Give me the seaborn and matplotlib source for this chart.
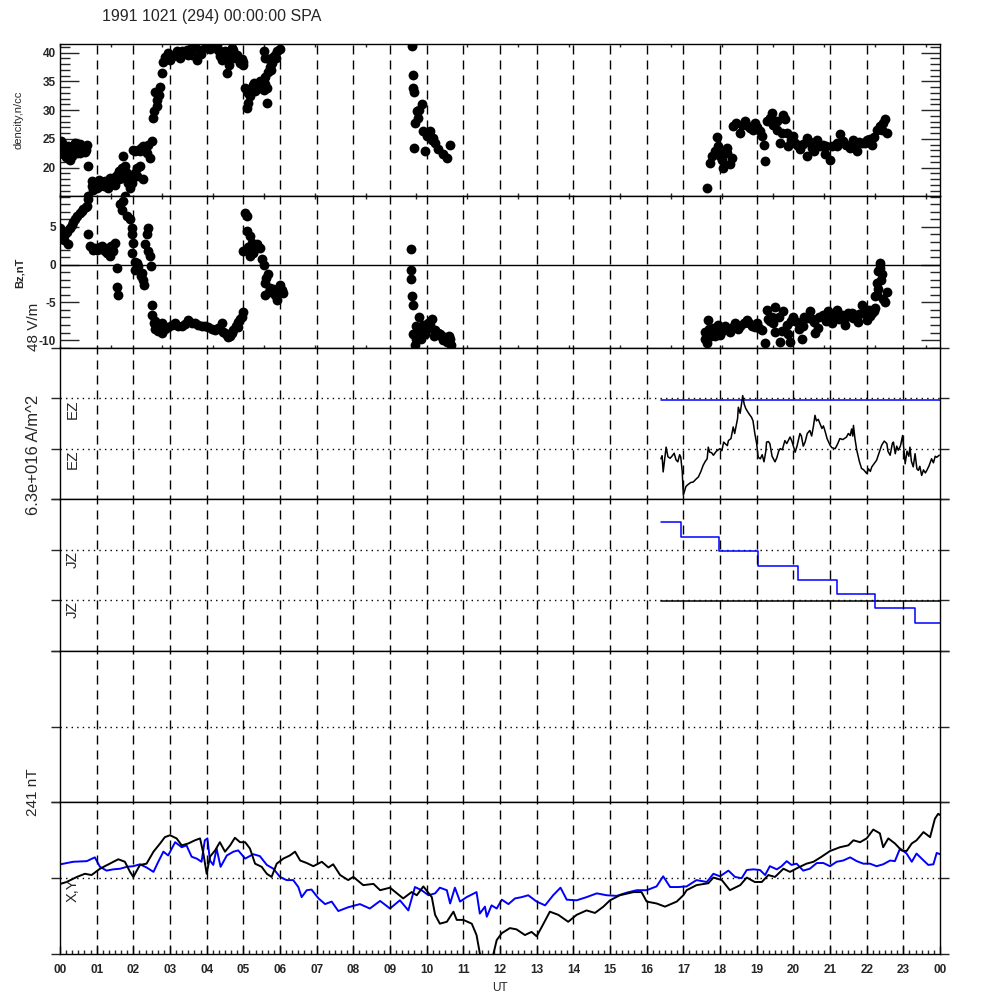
import numpy as np
import matplotlib
matplotlib.use("Agg")
import matplotlib.pyplot as plt
from matplotlib.ticker import MultipleLocator
import seaborn as sns

# ---- data (hours UT) ----
dens_hr = [0.02, 0.05, 0.09, 0.18, 0.23, 0.27, 0.32, 0.36, 0.41, 0.46, 0.5, 0.55, 0.6, 0.64, 0.68, 0.73, 0.77,
           0.86, 0.86, 0.77, 0.95, 1.0, 1.09, 1.15, 1.23, 1.32, 1.36, 1.41, 1.45, 1.5, 1.55, 1.6, 1.64, 1.68,
           1.73, 1.77, 1.82, 1.86, 1.91, 1.77, 1.96, 2.0, 2.05, 2.09, 2.18, 2.27, 2.05, 2.12, 2.18, 2.27, 2.36,
           2.45, 2.5, 2.4,
           2.53, 2.57, 2.64, 2.64, 2.59, 2.70, 2.73, 2.77, 2.82, 2.86, 3.0, 2.95, 3.08, 3.14, 3.27, 3.32, 3.4,
           3.46, 3.59, 3.68, 3.73, 3.82, 3.95, 4.27, 4.31, 4.36, 4.36, 4.41, 4.5, 4.55, 4.56, 4.6, 4.64, 4.68,
           4.73, 4.77, 4.82, 4.86, 4.91, 5.0, 5.0,
           5.05, 5.09, 5.14, 5.14, 5.23, 5.27, 5.32, 5.41, 5.45, 5.55, 5.64, 5.59, 5.64, 5.68, 5.72, 5.77, 5.55,
           5.59, 5.8, 5.86, 5.93, 6.0,
           9.59, 9.62, 9.64, 9.65, 9.73, 9.86, 9.77, 9.68, 9.65, 9.8, 9.91, 10.0, 10.09, 10.14, 9.95, 10.23,
           10.32, 10.45, 10.56, 10.64, 10.05, 10.18,
           17.64, 17.73, 17.77, 17.86, 17.93, 17.95, 18.05, 18.09, 18.18, 18.27, 18.32, 18.1, 18.45, 18.55,
           18.68, 18.82, 18.95, 19.09, 19.2, 19.23, 19.27, 19.41, 19.55, 19.55, 19.64, 19.73, 19.77, 19.82,
           19.86, 20.0, 20.05, 20.18, 20.36, 20.36, 20.55, 20.73, 20.86, 21.0, 21.05, 21.18, 21.27, 21.45,
           21.64, 21.73, 21.86, 22.0, 22.14, 22.27, 22.36, 22.5, 22.55, 20.45, 20.64, 20.9, 21.55, 22.1,
           0.12, 0.15, 0.3, 0.45, 0.55, 0.7, 0.9, 1.05, 1.2, 1.27, 1.5, 1.6, 1.7, 1.75, 1.86, 1.95, 2.1, 2.2,
           2.32, 2.0, 3.2, 3.5, 3.6, 3.85, 4.0, 4.1, 4.2, 4.45, 4.62, 4.7, 4.95, 5.18, 5.3, 5.36, 5.5, 5.6,
           5.75, 5.7, 5.9, 18.0, 18.2, 18.35, 18.6, 18.75, 18.9, 19.0, 19.15, 19.35, 19.45, 19.68, 19.95,
           20.1, 20.27, 20.5, 20.8, 21.2, 21.35, 21.6, 21.8, 21.95, 22.2, 22.42, 22.45]
dens_val = [24.6, 24.3, 22.3, 23.2, 23.7, 21.4, 22.0, 23.2, 24.3, 24.0, 23.0, 22.6, 23.8, 23.5, 22.8, 24.0, 20.3,
            17.7, 16.8, 15.1, 17.4, 16.5, 16.8, 17.6, 17.7, 16.5, 18.3, 17.2, 17.7, 18.4, 18.8, 18.0, 19.4, 18.3,
            22.0, 20.3, 19.1, 17.4, 16.5, 15.1, 18.0, 18.6, 19.1, 18.5, 20.3, 18.0, 22.9, 23.0, 22.9, 23.7, 22.6,
            21.7, 24.6, 24.0,
            28.7, 29.8, 30.7, 31.8, 33.1, 32.7, 34.1, 36.4, 38.4, 39.3, 38.7, 39.9, 39.4, 39.6, 39.0, 40.2, 40.0,
            40.5, 39.6, 41.0, 38.7, 40.5, 40.8, 41.3, 40.5, 40.2, 39.4, 38.7, 40.2, 39.6, 36.4, 38.9, 39.4, 40.8,
            40.5, 39.0, 39.6, 39.0, 38.2, 37.9, 38.3,
            33.8, 30.4, 31.2, 33.0, 33.8, 34.3, 33.3, 34.1, 35.0, 33.5, 33.8, 35.8, 31.2, 36.7, 37.5, 38.2, 40.2,
            39.0, 39.2, 39.6, 40.2, 40.6,
            41.2, 36.1, 33.8, 33.2, 29.8, 31.0, 28.7, 27.8, 23.5, 30.0, 26.3, 25.5, 26.3, 24.9, 22.9, 24.3,
            23.2, 22.3, 21.7, 24.0, 25.8, 25.2,
            16.5, 20.9, 22.0, 22.9, 25.4, 23.7, 21.4, 20.0, 23.5, 20.6, 21.7, 22.5, 27.8, 26.1,
            28.1, 26.9, 27.8, 26.3, 24.0, 21.1, 28.1, 29.5, 28.1, 26.6, 24.3, 29.2, 28.4, 26.1,
            23.7, 25.5, 24.3, 23.2, 25.2, 22.0, 22.9, 23.7, 22.3, 21.4, 23.7, 24.3, 25.8, 24.0,
            24.9, 22.9, 24.3, 24.9, 24.0, 26.6, 27.2, 28.4, 26.1, 24.5, 24.8, 23.8, 23.5, 25.0,
            23.5, 21.8, 23.0, 22.5, 24.2, 23.0, 16.2, 17.8, 16.9, 17.2, 17.0, 19.5, 20.0, 18.6, 18.8, 17.3,
            19.9, 23.4, 23.0, 23.0, 40.3, 39.5, 40.9, 39.8, 41.0, 40.6, 41.2, 40.0, 37.8, 39.8, 38.8, 32.5,
            34.8, 33.6, 34.5, 34.6, 37.0, 38.8, 39.0, 22.0, 22.6, 27.3, 27.5, 27.2, 26.5, 27.0, 25.5, 28.6,
            27.5, 26.0, 24.8, 24.0, 24.2, 23.5, 24.0, 23.8, 24.6, 24.0, 24.5, 24.3, 25.3, 26.5, 27.8]

bz_hr = [0.0, 0.05, 0.14, 0.23, 0.27, 0.36, 0.46, 0.55, 0.64, 0.73, 0.77, 0.77, 0.82, 0.95, 1.09, 1.23, 1.32,
         1.36, 1.45, 1.5, 1.55, 1.55, 1.59, 1.64, 1.73, 1.68, 1.82, 1.91, 1.96, 1.97, 2.0, 1.97, 2.05, 2.05,
         2.14, 2.23, 2.27, 2.3, 2.32, 2.36, 2.41, 2.41, 2.45, 2.48, 2.5, 2.5, 2.55, 2.59, 2.77, 2.77, 2.95,
         3.14, 3.32, 3.5, 3.68, 3.86, 4.04, 4.23, 4.41, 4.5, 4.59, 4.73, 4.86, 5.0, 5.05, 5.09, 5.0, 5.09,
         5.18, 5.23, 5.18, 5.27, 5.36, 5.45, 5.5, 5.55, 5.68, 5.59, 5.59, 5.73, 5.86, 5.91, 6.0, 6.09,
         1.0, 1.15, 1.28, 1.4, 2.68, 2.86, 3.05, 3.23, 3.41, 3.59, 3.77, 3.95, 4.14, 4.32, 4.45, 4.55, 4.64,
         4.8, 4.91,
         0.1, 0.2, 0.32, 0.42, 0.6, 0.7, 0.9, 1.05, 1.2, 1.3, 1.42, 2.1, 2.2, 2.6, 2.7, 4.7, 4.85, 4.95,
         5.12, 5.25, 5.4, 5.63, 5.7, 5.8, 5.95, 6.05,
         9.56, 9.56, 9.58, 9.6, 9.62, 9.8, 9.71, 9.64, 9.68, 9.86, 9.95, 10.04, 10.14, 10.23, 10.36, 10.5,
         10.64, 10.66, 9.75, 9.9, 10.3, 10.45, 9.7, 9.78, 9.85, 10.0, 10.1, 10.2, 10.4, 10.55, 10.6,
         17.64, 17.59, 17.59, 17.68, 17.82, 18.0, 18.14, 18.27, 18.41, 18.55, 18.73, 18.86, 19.0, 19.14,
         19.23, 19.27, 19.41, 19.5, 19.5, 19.64, 19.73, 19.82, 19.91, 20.0, 20.09, 20.23, 20.27, 20.36,
         20.45, 20.55, 20.68, 20.82, 20.95, 21.05, 21.18, 21.32, 21.41, 21.5, 21.64, 21.77, 21.86, 21.91,
         22.0, 22.14, 22.23, 22.23, 22.27, 22.32, 22.36, 22.36, 22.41, 22.55, 22.5, 22.27,
         17.75, 17.9, 18.5, 18.95, 19.35, 19.85, 20.6, 21.1, 21.7, 22.05,
         17.7, 17.85, 17.95, 18.05, 18.2, 18.35, 18.45, 18.65, 18.8, 19.05, 19.3, 19.45, 19.6, 19.7, 19.95,
         20.15, 20.3, 20.5, 20.7, 20.9, 21.0, 21.25, 21.45, 21.6, 21.8, 21.95, 22.1, 22.2, 22.3, 22.4, 22.45]
bz_val = [4.9, 3.6, 4.0, 2.7, 4.9, 5.6, 6.5, 6.9, 7.4, 7.8, 8.7, 4.1, 2.5, 2.2, 2.3, 1.8, 2.2,
          1.1, 1.8, 2.9, -0.4, -2.9, -4.0, 8.1, 8.5, 7.2, 6.5, 6.0, 4.9, 4.0, 2.9, 1.6, 0.4, -0.7,
          -0.2, -1.1, -2.0, -2.7, 2.7, 4.0, 4.9, 1.8, 1.1, -0.2, -5.4, -6.7, -7.8, -8.5, -9.0, -7.8, -8.3,
          -7.8, -8.1, -7.4, -7.8, -8.1, -8.3, -8.7, -7.8, -9.0, -9.6, -8.7, -7.6, -6.3, 6.9, 6.5, 1.8, 4.5,
          3.8, 2.9, 1.1, 1.6, 2.7, 2.2, 0.7, 0.0, -1.3, -2.5, -4.0, -3.1, -4.0, -4.7, -2.7, -3.8,
          1.9, 2.5, 1.5, 2.5, -8.8, -8.6, -8.0, -8.2, -7.9, -7.7, -8.0, -8.2, -8.5, -8.4, -8.9, -9.3, -9.4,
          -8.2, -7.2,
          3.2, 4.3, 5.2, 6.1, 7.1, 7.6, 2.0, 2.1, 2.0, 1.5, 2.2, 0.2, -1.5, -7.5, -8.2, -9.0, -8.3, -6.9,
          2.3, 1.7, 2.4, -1.8, -3.6, -3.2, -3.5, -3.3,
          2.1, -0.7, -1.9, -4.2, -5.4, -6.9, -8.1, -9.2, -10.6, -8.7, -9.2, -7.8, -7.2, -8.7, -9.2, -9.6,
          -9.8, -10.7, -9.5, -8.0, -9.0, -10.0, -9.8, -8.5, -9.8, -8.6, -8.0, -9.5, -9.4, -10.2, -9.5,
          -10.4, -8.9, -9.8, -7.3, -8.4, -9.3, -8.2, -8.9, -7.8, -8.2, -7.3, -8.2, -7.8, -8.7,
          -10.4, -6.0, -6.9, -5.6, -8.9, -10.2, -6.2, -8.0, -10.2, -6.9, -7.6, -9.8, -8.2, -7.1,
          -6.2, -7.6, -8.4, -6.7, -6.2, -7.8, -6.0, -6.7, -8.0, -6.4, -7.1, -7.6, -5.3, -6.4,
          -7.3, -6.4, -5.8, -4.2, -2.4, -0.9, 0.2, -0.4, -1.3, -3.6, -4.9, -4.0,
          -9.5, -8.8, -8.6, -8.3, -7.5, -9.2, -9.0, -7.0, -6.8, -6.0,
          -8.5, -9.5, -8.0, -8.8, -8.6, -8.3, -8.0, -7.8, -7.7, -8.4, -7.2, -7.8, -7.0, -8.8, -7.5,
          -8.5, -7.0, -7.2, -7.0, -7.5, -6.8, -7.2, -7.0, -6.4, -6.6, -6.2, -6.8, -6.2, -3.2, -2.0, -4.5]

ez_hr = [16.39, 16.42, 16.45, 16.5, 16.53, 16.58, 16.64, 16.7, 16.75, 16.8, 16.85, 16.9, 16.93, 16.97,
         17.0, 17.03, 17.07, 17.11, 17.2, 17.27, 17.35, 17.41, 17.48, 17.54, 17.6, 17.65, 17.68, 17.72,
         17.77, 17.82, 17.9, 18.0, 18.05, 18.1, 18.14, 18.2, 18.23, 18.3, 18.36, 18.4, 18.45, 18.48, 18.5,
         18.55, 18.6, 18.62, 18.66, 18.7, 18.73, 18.8, 18.86, 18.9, 18.95, 19.0, 19.04, 19.1, 19.15, 19.2,
         19.25, 19.27, 19.32, 19.36, 19.42, 19.5, 19.55, 19.6, 19.64, 19.7, 19.77, 19.82, 19.91, 19.96,
         20.0, 20.05, 20.1, 20.18, 20.22, 20.27, 20.32, 20.38, 20.45, 20.5, 20.55, 20.59, 20.63, 20.68,
         20.73, 20.78, 20.82, 20.86, 20.92, 21.0, 21.05, 21.14, 21.2, 21.27, 21.35, 21.45, 21.5, 21.55,
         21.59, 21.62, 21.64, 21.68, 21.73, 21.8, 21.86, 21.92, 22.0, 22.05, 22.1, 22.14, 22.2, 22.27,
         22.33, 22.41, 22.48, 22.55, 22.58, 22.64, 22.7, 22.73, 22.78, 22.82, 22.86, 22.92, 22.98, 23.02,
         23.05, 23.1, 23.15, 23.18, 23.22, 23.27, 23.32, 23.37, 23.41, 23.45, 23.5, 23.55, 23.6, 23.64,
         23.7, 23.77, 23.82, 23.87, 23.91, 23.98]
ez_val = [0.80, 0.86, 0.54, 0.85, 1.03, 0.84, 0.81, 0.86, 0.91, 0.78, 0.74, 0.88, 0.83, 0.55,
          0.08, 0.15, 0.25, 0.28, 0.33, 0.34, 0.40, 0.44, 0.55, 0.67, 0.75, 0.80, 1.03, 0.93,
          0.92, 0.87, 0.95, 1.00, 0.96, 1.13, 1.10, 1.06, 1.16, 1.20, 1.43, 1.30, 1.49, 1.60, 1.82,
          1.70, 1.95, 2.05, 1.88, 1.80, 1.76, 1.68, 1.62, 1.55, 1.30, 1.10, 0.83, 0.80, 0.88, 0.74,
          0.95, 1.13, 1.14, 1.10, 0.85, 0.74, 0.82, 0.95, 1.00, 0.98, 1.16, 1.10, 1.23, 1.15,
          1.05, 0.93, 1.05, 1.30, 1.25, 1.05, 1.13, 1.30, 1.36, 1.25, 1.45, 1.66, 1.55, 1.58,
          1.49, 1.40, 1.45, 1.36, 1.20, 1.07, 1.02, 1.00, 1.08, 1.20, 1.18, 1.23, 1.30, 1.26,
          1.39, 1.25, 1.46, 1.20, 0.97, 0.75, 0.61, 0.58, 0.51, 0.60, 0.55, 0.64, 0.70, 0.77,
          0.90, 1.07, 1.15, 1.10, 0.95, 0.87, 1.10, 1.13, 0.90, 1.05, 0.97, 1.05, 1.26, 0.95,
          0.70, 0.95, 0.85, 1.03, 0.75, 0.64, 0.90, 0.60, 0.57, 0.65, 0.47, 0.58, 0.52, 0.57,
          0.66, 0.80, 0.72, 0.85, 0.83, 0.87]
ez_ref_hr = [16.39, 24.0]
ez_ref_val = [1.97, 1.97]

jz_hr = [16.39, 16.93, 17.98, 19.04, 20.12, 21.18, 22.23, 23.32, 24.0]
jz_val = [2.54, 2.25, 1.97, 1.68, 1.41, 1.12, 0.84, 0.55, 0.55]
jz_ref_hr = [16.39, 24.0]
jz_ref_val = [0.99, 0.99]

x_hr = [0.01, 0.18, 0.46, 0.68, 0.86, 1.09, 1.36, 1.59, 1.77, 1.91, 2.0, 2.18, 2.36, 2.55, 2.73, 2.86, 3.0,
        3.18, 3.32, 3.5, 3.68, 3.82, 3.91, 4.0, 4.09, 4.23, 4.36, 4.5, 4.64, 4.77, 4.91, 5.05, 5.18, 5.32,
        5.5, 5.64, 5.77, 5.91, 6.09, 6.27, 6.41, 6.55, 6.73, 6.91, 7.14, 7.32, 7.45, 7.64, 7.86, 8.0, 8.27,
        8.55, 8.73, 9.0, 9.36, 9.59, 9.73, 9.91, 10.14, 10.23, 10.36, 10.55, 10.73, 10.82, 11.0, 11.23,
        11.36, 11.45, 11.59, 11.73, 11.82, 11.91, 12.05, 12.27, 12.45, 12.68, 12.86, 13.0, 13.14, 13.36,
        13.59, 13.86, 14.09, 14.36, 14.59, 14.82, 15.0, 15.27, 15.64, 15.86, 16.0, 16.27, 16.5, 16.82,
        17.0, 17.09, 17.36, 17.68, 17.82, 18.05, 18.27, 18.55, 18.73, 18.95, 19.14, 19.32, 19.5, 19.73,
        19.91, 20.14, 20.36, 20.55, 20.77, 21.0, 21.27, 21.5, 21.64, 21.82, 22.0, 22.18, 22.36, 22.45,
        22.59, 22.77, 22.95, 23.09, 23.23, 23.36, 23.55, 23.73, 23.86, 23.95, 24.0]
x_val = [-9, -6, 2, 7, 5, 15, 23, 30, 26, 10, 2, 21, 23, 42, 55, 65, 68,
         63, 52, 55, 60, 63, 39, 7, 34, 44, 57, 42, 52, 64, 57, 57, 47, 23,
         18, 7, 2, 23, 31, 36, 42, 28, 24, 19, 26, 17, 22, 5, -3, 2, -11,
         -9, -19, -15, -32, -22, -27, -13, -30, -58, -72, -69, -53, -66, -66, -72,
         -90, -119, -138, -138, -120, -98, -87, -79, -81, -90, -85, -92, -77, -53,
         -58, -69, -58, -51, -55, -45, -35, -27, -22, -22, -37, -40, -45, -37,
         -27, -19, -11, -8, 1, -3, -19, -11, 1, -6, -6, 5, 2, 15,
         10, 17, 23, 26, 34, 43, 49, 52, 60, 57, 63, 77, 71, 49,
         63, 55, 44, 43, 55, 60, 73, 65, 94, 102, 100]

y_hr = [0.01, 0.36, 0.73, 0.95, 1.09, 1.27, 1.45, 1.64, 1.82, 2.0, 2.18, 2.36, 2.55, 2.68, 2.82, 2.95, 3.14,
        3.32, 3.45, 3.59, 3.73, 3.86, 3.95, 4.02, 4.09, 4.18, 4.27, 4.38, 4.55, 4.73, 4.86, 5.05, 5.27, 5.45,
        5.64, 5.82, 6.0, 6.18, 6.36, 6.5, 6.59, 6.73, 6.86, 7.05, 7.23, 7.41, 7.59, 7.86, 8.18, 8.45, 8.73,
        9.0, 9.27, 9.5, 9.68, 9.86, 10.05, 10.23, 10.36, 10.55, 10.64, 10.77, 10.91, 11.09, 11.36, 11.45,
        11.59, 11.64, 11.77, 11.91, 12.05, 12.23, 12.41, 12.59, 12.77, 13.0, 13.23, 13.45, 13.65, 13.82,
        14.09, 14.36, 14.64, 14.91, 15.18, 15.45, 15.73, 16.0, 16.27, 16.45, 16.64, 16.86, 17.09, 17.36,
        17.64, 17.82, 18.0, 18.23, 18.41, 18.59, 18.73, 18.91, 19.09, 19.23, 19.36, 19.55, 19.68, 19.82,
        19.95, 20.09, 20.27, 20.45, 20.64, 20.82, 21.0, 21.18, 21.36, 21.55, 21.73, 21.91, 22.09, 22.27,
        22.45, 22.64, 22.77, 22.91, 23.09, 23.23, 23.36, 23.5, 23.68, 23.82, 23.91, 24.0]
y_val = [22, 26, 27, 33, 18, 12, 14, 15, 18, 19, 22, 17, 10, 26, 42, 36, 57,
         49, 52, 34, 31, 26, 60, 63, 28, 21, 47, 18, 36, 42, 44, 31, 38, 35,
         21, 15, 2, -3, -3, -14, -30, -19, -18, -32, -41, -37, -52, -46, -41, -48, -36,
         -48, -35, -51, -14, -19, -27, -24, -15, -19, -40, -15, -37, -30, -22, -56,
         -45, -61, -43, -48, -34, -41, -32, -30, -27, -37, -43, -27, -15, -34,
         -35, -30, -24, -27, -28, -23, -19, -19, -13, 3, -14, -14, -13, -3,
         -6, 7, 3, 12, 2, 0, 13, 14, 13, 5, 19, 14, 19, 27,
         21, 23, 12, 15, 24, 24, 19, 26, 28, 33, 27, 23, 23, 19,
         22, 28, 27, 47, 39, 26, 39, 31, 21, 22, 40, 38]

hour_labels = ["%02d" % (h % 24) for h in range(25)]

# ---- figure ----
sns.set_style("white")
plt.rcParams['font.family'] = ['Liberation Sans', 'DejaVu Sans']
plt.rcParams['axes.linewidth'] = 1.0
plt.rcParams['axes.unicode_minus'] = False

fig = plt.figure(figsize=(10, 10), dpi=100)
left, width, h = 0.06, 0.88, 0.1516
bottoms = [0.046 + h * i for i in range(6)][::-1]
axes = [fig.add_axes([left, b, width, h]) for b in bottoms]
for ax in axes:
    ax.set_xlim(0, 24)
    for sp in ax.spines.values():
        sp.set_color('black')
        sp.set_linewidth(1.0)

dotted = (0, (1, 3))
tick5000 = np.arange(0, 24.01, 5000 / 3600)
dot_size = 50

# density
ax = axes[0]
sns.scatterplot(x=dens_hr, y=dens_val, ax=ax, color='black', s=dot_size, linewidth=0, legend=False)
ax.set_ylim(15.09, 41.42)
ax.set_yticks([20, 25, 30, 35, 40])
ax.yaxis.set_minor_locator(MultipleLocator(1))

# Bz
ax = axes[1]
ax.axhline(0, color='black', lw=1.0)
sns.scatterplot(x=bz_hr, y=bz_val, ax=ax, color='black', s=dot_size, linewidth=0, legend=False)
ax.set_ylim(-11.0, 9.1)
ax.set_yticks([-10, -5, 0, 5])
ax.yaxis.set_minor_locator(MultipleLocator(1))

for ax in axes[:2]:
    ax.set_xticks(tick5000)
    ax.tick_params(axis='x', direction='in', length=2.5, width=1, top=True, bottom=True,
                   labelbottom=False)
    ax.tick_params(axis='y', which='major', direction='in', length=13.7, width=1,
                   left=True, right=True, labelsize=8.5, pad=3)
    ax.tick_params(axis='y', which='minor', direction='in', length=7, width=1, left=True, right=True)
    plt.setp(ax.get_yticklabels(), fontweight='bold')

# EZ
ax = axes[2]
for lev in [1, 2]:
    ax.axhline(lev, color='black', lw=1, ls=dotted)
sns.lineplot(x=ez_ref_hr, y=ez_ref_val, ax=ax, color='blue', lw=1.1, estimator=None, sort=False)
sns.lineplot(x=ez_hr, y=ez_val, ax=ax, color='black', lw=1.1, estimator=None, sort=False)
ax.set_ylim(0, 3)
for lev in [2, 1]:
    ax.text(0.0148, lev - 0.02, 'EZ', transform=ax.get_yaxis_transform(), rotation=90,
            ha='center', va='top', fontsize=11)

# JZ
ax = axes[3]
for lev in [1, 2]:
    ax.axhline(lev, color='black', lw=1, ls=dotted)
sns.lineplot(x=jz_ref_hr, y=jz_ref_val, ax=ax, color='black', lw=1.1, estimator=None, sort=False)
sns.lineplot(x=jz_hr, y=jz_val, ax=ax, color='blue', lw=1.1, estimator=None, sort=False,
             drawstyle='steps-post')
ax.set_ylim(0, 3)
for lev in [2, 1]:
    ax.text(0.0148, lev - 0.02, 'JZ', transform=ax.get_yaxis_transform(), rotation=90,
            ha='center', va='top', fontsize=11)

# empty
ax = axes[4]
ax.axhline(1, color='black', lw=1, ls=dotted)
ax.set_ylim(0, 2)

# X,Y
ax = axes[5]
ax.axhline(0, color='black', lw=1, ls=dotted)
sns.lineplot(x=y_hr, y=y_val, ax=ax, color='blue', lw=1.4, estimator=None, sort=False)
sns.lineplot(x=x_hr, y=x_val, ax=ax, color='black', lw=1.4, estimator=None, sort=False)
ax.set_ylim(-120, 120)
ax.text(0.0148, -0.06, 'X,Y', transform=ax.get_yaxis_transform(), rotation=90,
        ha='center', va='top', fontsize=10.5)

for ax, yt in zip(axes[2:], [[0, 1, 2, 3], [0, 1, 2, 3], [0, 1, 2], [-120, 0, 120]]):
    ax.set_yticks(yt)
    ax.tick_params(axis='y', direction='out', length=6.5, width=1, left=True, right=True,
                   labelleft=False)
for ax in axes[2:5]:
    ax.set_xticks([])

ax = axes[5]
ax.set_xticks(range(25))
ax.set_xticklabels(hour_labels)
ax.xaxis.set_minor_locator(MultipleLocator(1 / 6))
ax.tick_params(axis='x', which='major', direction='in', length=6, width=1, bottom=True,
               labelsize=8.5, pad=7)
ax.tick_params(axis='x', which='minor', direction='in', length=3, width=1, bottom=True)
plt.setp(ax.get_xticklabels(), fontweight='bold')

for ax in axes:
    ax.set_xlabel('')
    ax.set_ylabel('')

# dashed hour lines across all panels
ov = fig.add_axes([left, 0.046, width, 6 * h])
ov.set_xlim(0, 24)
ov.set_ylim(0, 1)
ov.axis('off')
for hr in range(1, 24):
    ov.axvline(hr, color='black', lw=1.0, ls=(0, (6.5, 4.3)))

# labels
fig.text(0.1017, 0.984, '1991 1021 (294) 00:00:00 SPA', ha='left', va='center', fontsize=11.5)
fig.text(0.019, 0.880, 'dencity,n/cc', rotation=90, ha='center', va='center', fontsize=8)
fig.text(0.020, 0.727, 'Bz,nT', rotation=90, ha='center', va='center', fontsize=8, fontweight='bold')
fig.text(0.034, 0.673, '48 V/m', rotation=90, ha='center', va='center', fontsize=11)
fig.text(0.033, 0.545, '6.3e+016 A/m^2', rotation=90, ha='center', va='center', fontsize=12)
fig.text(0.033, 0.208, '241 nT', rotation=90, ha='center', va='center', fontsize=11)
fig.text(0.5, 0.012, 'UT', ha='center', va='center', fontsize=8.5)

fig.savefig('out.png', dpi=100, facecolor='white')
